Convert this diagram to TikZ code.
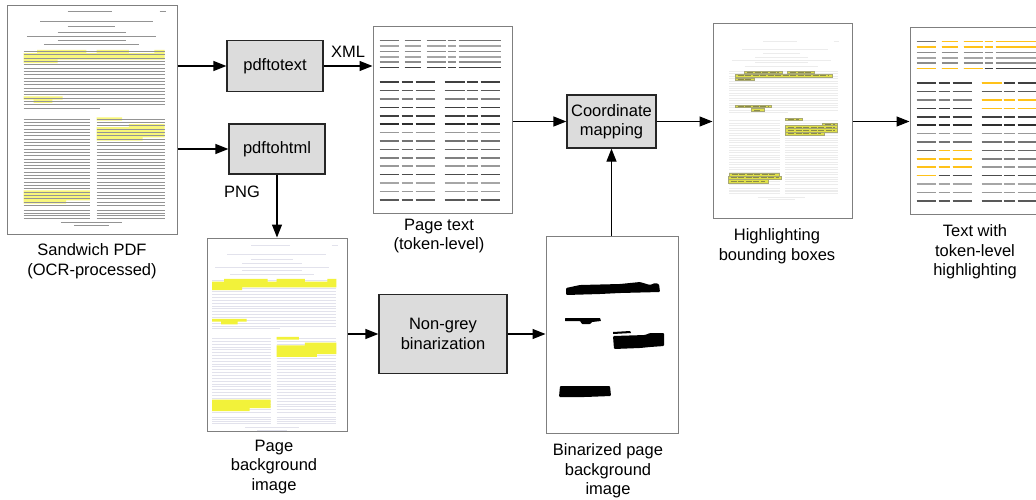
\documentclass[tikz,border=0pt]{standalone}
\usepackage{fontspec}
\setmainfont{Liberation Sans}
\usetikzlibrary{arrows.meta,calc}
\definecolor{boxfill}{HTML}{DCDCDC}
\definecolor{framecol}{HTML}{7F7F7F}
\definecolor{tokyel}{HTML}{FFC21A}
\definecolor{pdfhl}{HTML}{F8F77A}
\definecolor{bghl}{HTML}{F2F23A}
\definecolor{hlbox}{HTML}{E0E048}
\definecolor{hlink}{HTML}{6E6E18}
\definecolor{bgtext}{HTML}{E2E2EC}
\definecolor{hltext}{HTML}{ECECEC}

% scanned page text, unit coordinates
\newcommand\scanlines[2]{%
  \draw[#1, line width=#2] (0.36,0.03)--(0.62,0.03) (0.9,0.03)--(0.94,0.03);
  \draw[#1, line width=1.1pt] (0.2,0.075)--(0.86,0.075) (0.36,0.098)--(0.64,0.098);
  \draw[#1, line width=#2] (0.3,0.12)--(0.7,0.12) (0.12,0.14)--(0.88,0.14)
       (0.3,0.155)--(0.7,0.155) (0.22,0.175)--(0.78,0.175);
  \foreach \i in {0,...,16}{\pgfmathsetmacro\vv{0.205+\i*0.0145}
    \draw[#1, line width=#2] (0.1,\vv)--(0.93,\vv);}
  \draw[#1, line width=#2] (0.1,0.4515)--(0.55,0.4515);
  \foreach \i in {0,...,26}{\pgfmathsetmacro\vv{0.5+\i*0.0145}
    \draw[#1, line width=#2] (0.1,\vv)--(0.49,\vv) (0.53,\vv)--(0.93,\vv);}
  \foreach \vv in {0.9,0.911,0.922,0.933}{
    \draw[#1, line width=0.45pt] (0.1,\vv)--(0.49,\vv) (0.53,\vv)--(0.93,\vv);}
  \draw[#1, line width=#2] (0.32,0.953)--(0.68,0.953) (0.4,0.966)--(0.6,0.966);
}
\newcommand\scanhl[1]{%
  \fill[#1] (0.18,0.198) rectangle (0.47,0.212) (0.53,0.198) rectangle (0.72,0.212)
    (0.87,0.198) rectangle (0.93,0.212) (0.1,0.212) rectangle (0.93,0.241)
    (0.1,0.241) rectangle (0.3,0.256)
    (0.1,0.401) rectangle (0.33,0.415) (0.16,0.415) rectangle (0.27,0.43)
    (0.53,0.493) rectangle (0.68,0.507)
    (0.72,0.522) rectangle (0.93,0.536) (0.53,0.536) rectangle (0.93,0.58)
    (0.53,0.58) rectangle (0.8,0.594)
    (0.1,0.812) rectangle (0.49,0.855) (0.1,0.855) rectangle (0.35,0.87);
}
% token-level text page, pixel coordinates relative to top-left
\newcommand\tokenbase{%
  \foreach \r/\s in {0/55,1/35,2/45,3/35,4/45,5/75}{%
    \pgfmathsetmacro\tky{15+\r*5.4}
    \draw[tok,black!\s] (7,\tky)--(26,\tky) (32,\tky)--(48,\tky) (54,\tky)--(73,\tky)
      (75,\tky)--(83,\tky) (86,\tky)--(128,\tky);}
  \foreach \r/\s in {0/75,1/65,2/50,3/75,4/75,5/82,6/40,7/55,8/60,9/50,10/40,11/70,12/35,13/40,14/65}{%
    \pgfmathsetmacro\tky{56.7+\r*8.4}
    \draw[tok,black!\s] (7,\tky)--(26,\tky) (29,\tky)--(40,\tky) (43,\tky)--(62,\tky)
      (72,\tky)--(92,\tky) (94,\tky)--(105,\tky) (108,\tky)--(127,\tky);}
}
\newcommand\hlrow[4]{% x1 y1 x2 y2 in unit coords
  \filldraw[fill=hlbox, draw=hlink!60, line width=0.4pt] (#1,#2) rectangle (#3,#4);
  \draw[hlink!80, line width=0.6pt, dash pattern=on 6pt off 1.5pt] ($(#1,#2)!0.5!(#1,#4)+(0.02,0)$) -- ($(#3,#2)!0.5!(#3,#4)-(0.02,0)$);
}

\tikzset{
  proc/.style={draw=black!85, fill=boxfill, line width=1.2pt, align=center, inner sep=0pt,
    font=\fontsize{16.5}{19.5}\selectfont},
  pageframe/.style={draw=framecol, fill=white, line width=1pt, inner sep=0pt},
  lbl/.style={align=center, inner sep=0pt, font=\fontsize{16.5}{19.5}\selectfont},
  arr/.style={line width=1.2pt, -{Triangle[length=13pt,width=10pt]}},
  tok/.style={line width=1.6pt},
}

\begin{document}
\begin{tikzpicture}[x=1pt,y=-1pt]
\useasboundingbox (0,0) rectangle (1036,499);

% ---------- pages ----------
\node[pageframe, minimum width=170pt, minimum height=229pt] (pdf) at (92,119.5) {};
\begin{scope}[shift={(pdf.north west)}, x=170pt, y=-229pt]
  \scanhl{pdfhl}
  \scanlines{black!42}{0.6pt}
\end{scope}

\node[pageframe, minimum width=139pt, minimum height=187pt] (ptext) at (442.5,119.5) {};
\begin{scope}[shift={(ptext.north west)}]
  \tokenbase
\end{scope}

\node[pageframe, minimum width=140pt, minimum height=193pt] (bg) at (277,334.5) {};
\begin{scope}[shift={(bg.north west)}, x=140pt, y=-193pt]
  \begin{scope}[shift={(-0.067,0.012)}, xscale=1.07, yscale=1.02]
    \scanlines{bgtext}{0.6pt}
    \scanhl{bghl}
  \end{scope}
\end{scope}

\node[pageframe, minimum width=132pt, minimum height=197pt] (bin) at (612,334.5) {};
\fill[black, rounded corners=1pt] (566,288) -- (580,285) -- (620,284) -- (640,282) -- (650,285) -- (655,283) -- (659,284)
   -- (660,292) -- (620,293) -- (600,294) -- (566,295) -- cycle;
\fill[black, rounded corners=0.5pt] (565,318) -- (600,318) -- (601,321) -- (592,322) -- (590,324) -- (582,324) -- (580,321) -- (565,321) -- cycle;
\fill[black] (613,332) -- (630,331) -- (631,333) -- (613,334) -- cycle;
\fill[black, rounded corners=1pt] (613,336) -- (645,335) -- (650,333) -- (664,333) -- (664,346) -- (650,347) -- (640,348) -- (614,349) -- cycle;
\fill[black, rounded corners=1pt] (560,386) -- (610,386) -- (611,396) -- (585,397) -- (559,397) -- cycle;

\node[pageframe, minimum width=139pt, minimum height=195pt] (hl) at (782.5,120.5) {};
\begin{scope}[shift={(hl.north west)}, x=139pt, y=-195pt]
  \begin{scope}[shift={(0.026,0.073)}, xscale=0.94, yscale=0.862]
    \scanlines{hltext}{0.6pt}
  \end{scope}
  \hlrow{0.23}{0.25}{0.5}{0.262}
  \hlrow{0.54}{0.25}{0.73}{0.262}
  \hlrow{0.16}{0.263}{0.86}{0.279}
  \hlrow{0.16}{0.284}{0.30}{0.296}
  \hlrow{0.16}{0.422}{0.42}{0.436}
  \hlrow{0.28}{0.441}{0.37}{0.455}
  \hlrow{0.525}{0.492}{0.645}{0.503}
  \hlrow{0.79}{0.514}{0.9}{0.527}
  \hlrow{0.525}{0.527}{0.9}{0.544}
  \hlrow{0.525}{0.544}{0.9}{0.561}
  \hlrow{0.525}{0.561}{0.8}{0.578}
  \hlrow{0.12}{0.771}{0.48}{0.787}
  \hlrow{0.11}{0.787}{0.495}{0.805}
  \hlrow{0.11}{0.805}{0.4}{0.822}
\end{scope}

\node[pageframe, minimum width=140pt, minimum height=187pt] (final) at (980,120.5) {};
\begin{scope}[shift={(final.north west)}]
  \tokenbase
  \draw[tok,tokyel] (32,15)--(48,15) (54,15)--(73,15) (75,15)--(83,15) (86,15)--(130,15);
  \draw[tok,tokyel] (7,20.4)--(26,20.4) (32,20.4)--(48,20.4) (54,20.4)--(73,20.4) (75,20.4)--(83,20.4) (86,20.4)--(130,20.4);
  \draw[tok,tokyel] (7,42)--(26,42) (32,42)--(48,42) (54,42)--(73,42);
  \draw[tok,tokyel] (72,56.7)--(92,56.7);
  \draw[tok,tokyel] (72,73.5)--(92,73.5) (94,73.5)--(105,73.5) (108,73.5)--(127,73.5);
  \draw[tok,tokyel] (72,81.9)--(92,81.9) (94,81.9)--(105,81.9) (108,81.9)--(127,81.9);
  \draw[tok,tokyel] (29,123.9)--(40,123.9) (43,123.9)--(62,123.9);
  \draw[tok,tokyel] (7,132.3)--(26,132.3) (29,132.3)--(40,132.3) (43,132.3)--(62,132.3);
  \draw[tok,tokyel] (7,140.7)--(26,140.7) (29,140.7)--(40,140.7) (43,140.7)--(62,140.7);
  \draw[tok,tokyel] (7,149.1)--(26,149.1);
\end{scope}

% ---------- process boxes ----------
\node[proc, minimum width=96pt, minimum height=51pt] (p2t) at (275,66) {pdftotext};
\node[proc, minimum width=96pt, minimum height=50pt] (p2h) at (277,149) {pdftohtml};
\node[proc, minimum width=89pt, minimum height=53pt] (coord) at (611.5,121.5) {Coordinate\\mapping};
\node[proc, minimum width=128pt, minimum height=79pt] (ngb) at (443,334) {Non-grey\\binarization};

% ---------- labels ----------
\node[lbl] (lpdf) at (92,261) {Sandwich PDF\\(OCR-processed)};
\node[lbl] (lpt) at (439,236) {Page text\\(token-level)};
\node[lbl] (lbg) at (274,467) {Page\\background\\image};
\node[lbl] (lbin) at (608,471) {Binarized page\\background\\image};
\node[lbl] (lhl) at (777,246) {Highlighting\\bounding boxes};
\node[lbl] (lfin) at (975,252) {Text with\\token-level\\highlighting};
\node[lbl] (lxml) at (348,52) {XML};
\node[lbl] (lpng) at (242,192) {PNG};

% ---------- connectors ----------
\draw[arr] (pdf.east |- p2t.west) -- (p2t.west);
\draw[arr] (pdf.east |- p2h.west) -- (p2h.west);
\draw[arr] (p2t.east) -- (ptext.west |- p2t.east);
\draw[arr] (p2h.south) -- (bg.north -| p2h.south);
\draw[arr] (ptext.east |- coord.west) -- (coord.west);
\draw[arr] (coord.east) -- (hl.west |- coord.east);
\draw[arr] (bin.north -| coord.south) -- (coord.south);
\draw[arr] (hl.east |- coord.east) -- (final.west |- coord.east);
\draw[arr] (bg.east |- ngb.west) -- (ngb.west);
\draw[arr] (ngb.east) -- (bin.west |- ngb.east);
\end{tikzpicture}
\end{document}
